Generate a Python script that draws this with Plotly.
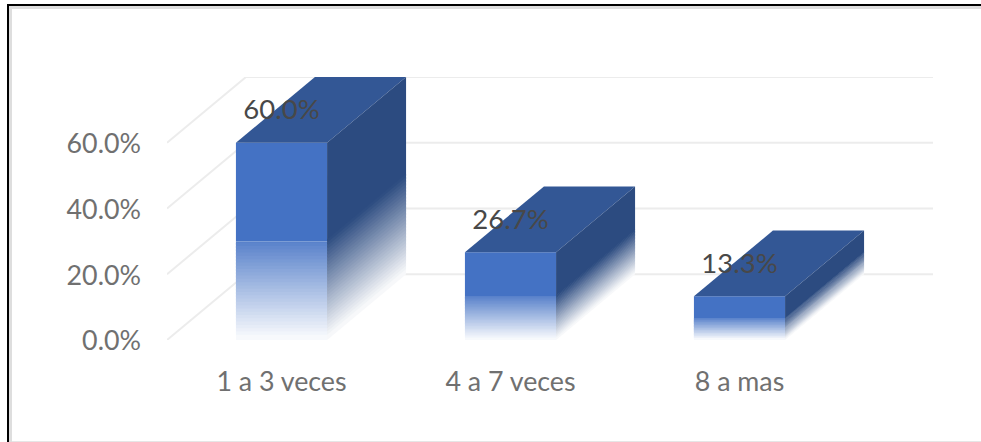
import plotly.graph_objects as go

categories = ["1 a 3 veces", "4 a 7 veces", "8 a mas"]
values = [60.0, 26.7, 13.3]
value_labels = ["60.0%", "26.7%", "13.3%"]
tick_values = [0, 20, 40, 60]
tick_labels = ["0.0%", "20.0%", "40.0%", "60.0%"]

W, H = 981, 442
ML, MR, MT, MB = 167, 48, 77, 102
DEPTH_X = 0.345
DEPTH_Y = 20
HALF = 0.199
BANDS = 30
FRONT = (68, 114, 196)
SIDE = (44, 75, 128)
TOP = (51, 87, 149)
GRID = "#ECECEC"


def mix(c, a):
    return "rgb(%d,%d,%d)" % tuple(round(255 + (v - 255) * a) for v in c)


fig = go.Figure()

for i, v in enumerate(values):
    l, r = i - HALF, i + HALF
    # top face
    fig.add_trace(go.Scatter(
        x=[l, r, r + DEPTH_X, l + DEPTH_X, l],
        y=[v, v, v + DEPTH_Y, v + DEPTH_Y, v],
        mode="lines", fill="toself", fillcolor=mix(TOP, 1), line=dict(width=0),
        hoverinfo="skip", showlegend=False, cliponaxis=False))
    # side face: solid upper half
    fig.add_trace(go.Scatter(
        x=[r, r + DEPTH_X, r + DEPTH_X, r, r],
        y=[v * 0.5, v * 0.5 + DEPTH_Y, v + DEPTH_Y, v, v * 0.5],
        mode="lines", fill="toself", fillcolor=mix(SIDE, 1), line=dict(width=0),
        hoverinfo="skip", showlegend=False, cliponaxis=False))
    # side face: fading lower half, painted from the top down
    for k in range(BANDS - 1, -1, -1):
        lo = v * 0.5 * k / BANDS
        hi = v * 0.5 * (k + 1.6) / BANDS
        a = 0.02 + 0.98 * (k + 0.5) / BANDS
        fig.add_trace(go.Scatter(
            x=[r, r + DEPTH_X, r + DEPTH_X, r, r],
            y=[lo, lo + DEPTH_Y, hi + DEPTH_Y, hi, lo],
            mode="lines", fill="toself", fillcolor=mix(SIDE, a), line=dict(width=0),
            hoverinfo="skip", showlegend=False, cliponaxis=False))
    # front face: solid upper half
    fig.add_trace(go.Bar(
        x=[i], y=[v * 0.5], base=[v * 0.5], width=2 * HALF,
        marker=dict(color=mix(FRONT, 1), line=dict(width=0)),
        hoverinfo="skip", showlegend=False))
    # front face: fading lower half, painted from the top down
    for k in range(BANDS - 1, -1, -1):
        lo = v * 0.5 * k / BANDS
        hi = v * 0.5 * (k + 1.6) / BANDS
        a = 0.03 + 0.88 * (k + 0.5) / BANDS
        fig.add_trace(go.Bar(
            x=[i], y=[min(hi, v * 0.5) - lo], base=[lo], width=2 * HALF,
            marker=dict(color=mix(FRONT, a), line=dict(width=0)),
            hoverinfo="skip", showlegend=False))

# value labels
fig.add_trace(go.Scatter(
    x=list(range(len(values))), y=[v + 9.2 for v in values],
    mode="text", text=value_labels, textposition="middle center",
    textfont=dict(family="Lato", size=27.5, color="#484848"),
    hoverinfo="skip", showlegend=False, cliponaxis=False))


def to_paper_x(p):
    return (p - ML) / (W - ML - MR)


def to_paper_y(p):
    return 1 - (p - MT) / (H - MT - MB)


def rule(x0, y0, x1, y1, color):
    return dict(type="rect", xref="paper", yref="paper",
                x0=to_paper_x(x0), x1=to_paper_x(x1),
                y0=to_paper_y(y0), y1=to_paper_y(y1),
                fillcolor=color, line=dict(width=0), layer="below")


grid_shapes = []
for t in tick_values:
    grid_shapes.append(dict(type="line", xref="x", yref="y", x0=-0.5, y0=t,
                            x1=-0.5 + DEPTH_X, y1=t + DEPTH_Y,
                            line=dict(color=GRID, width=2), layer="below"))
    grid_shapes.append(dict(type="line", xref="x", yref="y", x0=-0.5 + DEPTH_X, y0=t + DEPTH_Y,
                            x1=2.5 + DEPTH_X, y1=t + DEPTH_Y,
                            line=dict(color=GRID, width=2), layer="below"))

fig.update_layout(
    width=W, height=H,
    margin=dict(l=ML, r=MR, t=MT, b=MB, pad=0),
    paper_bgcolor="white", plot_bgcolor="rgba(0,0,0,0)",
    barmode="overlay", showlegend=False,
    xaxis=dict(range=[-0.5, 2.5 + DEPTH_X], tickmode="array",
               tickvals=list(range(len(categories))), ticktext=categories,
               showgrid=False, zeroline=False, showline=False, ticks="",
               ticklabelstandoff=23,
               tickfont=dict(family="Lato", size=26.8, color="#707070")),
    yaxis=dict(range=[0, 80], tickmode="array", tickvals=tick_values, ticktext=tick_labels,
               showgrid=False, zeroline=False, showline=False, ticks="",
               ticklabelstandoff=25, ticklabelshift=1,
               tickfont=dict(family="Lato", size=26.8, color="#707070")),
    shapes=grid_shapes + [
        rule(7, 4, W, 6, "#000000"),
        rule(7, 4, 9, H, "#000000"),
        rule(9, 6, W, 9, "#DEDEDE"),
        rule(9, 6, 12, H, "#DEDEDE"),
        rule(12, 441, W, H, "#E6E6E6"),
    ],
)

fig.write_html("out.html", config={"displayModeBar": False},
               post_script="document.body.style.margin='0';document.body.style.overflow='hidden';")
